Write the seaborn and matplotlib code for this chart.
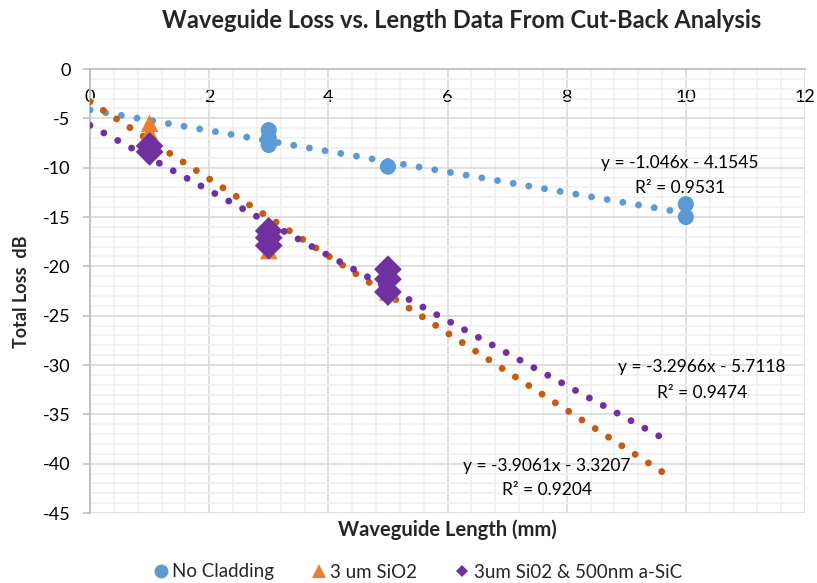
import numpy as np
import pandas as pd
import matplotlib
matplotlib.use("Agg")
import matplotlib.pyplot as plt
from matplotlib.lines import Line2D
from matplotlib.ticker import MultipleLocator
import seaborn as sns

# ---- measured data -------------------------------------------------------
series_names = ["No Cladding", "3 um SiO2", "3um Si02 & 500nm a-SiC"]

no_clad_x = [3, 3, 3, 5, 10, 10]
no_clad_y = [-6.2, -7.0, -7.7, -9.9, -13.7, -15.0]

sio2_x = [1, 1, 1, 3, 3, 5, 5]
sio2_y = [-5.5, -6.4, -7.9, -18.4, -17.2, -21.8, -22.6]

sic_x = [1, 1, 3, 3, 3, 5, 5, 5]
sic_y = [-7.8, -8.4, -16.4, -17.1, -17.9, -20.3, -21.3, -22.6]

# linear fits (slope, intercept, R^2) and the x-range each trend line covers
fit_slope = [-1.046, -3.9061, -3.2966]
fit_intercept = [-4.1545, -3.3207, -5.7118]
fit_r2 = [0.9531, 0.9204, 0.9474]
fit_range = [(0, 10), (0, 9.6), (0, 9.55)]

# ---- styling -------------------------------------------------------------
marker_colors = ["#5B9BD5", "#ED7D31", "#7030A0"]
trend_colors = ["#5B9BD5", "#C55A11", "#7030A0"]
markers = ["o", "^", "D"]
marker_sizes = [135, 160, 200]
DOT_LW = 5.0          # dot diameter, points
DOT_PITCH_PX = 16.0   # approximate distance between dots, pixels

sns.set_theme(style="white")
plt.rcParams["font.family"] = ["Lato", "DejaVu Sans"]

fig = plt.figure(figsize=(8.17, 5.83), dpi=100)
ax = fig.add_axes([90 / 817, 1 - 513 / 583, 715 / 817, 444 / 583])
ax.set_xlim(0, 12)
ax.set_ylim(-45, 0)

# dotted trend lines; the pitch is nudged so a dot lands on each end
px_per_pt = fig.dpi / 72.0
for i, name in enumerate(series_names):
    lo, hi = fit_range[i]
    tx = np.linspace(lo, hi, 300)
    ty = fit_slope[i] * tx + fit_intercept[i]
    p0, p1 = ax.transData.transform([[tx[0], ty[0]], [tx[-1], ty[-1]]])
    length_px = float(np.hypot(*(p1 - p0)))
    n = max(1, round(length_px / DOT_PITCH_PX))
    pitch_lw = (length_px / n) / (DOT_LW * px_per_pt) * 0.9995
    tdf = pd.DataFrame({"x": tx, "y": ty})
    sns.lineplot(data=tdf, x="x", y="y", ax=ax, color=trend_colors[i],
                 lw=DOT_LW, linestyle=(0, (0.0001, pitch_lw - 0.0001)),
                 dash_capstyle="round", zorder=3)

# measured points
point_sets = [(no_clad_x, no_clad_y), (sio2_x, sio2_y), (sic_x, sic_y)]
for i, (xs, ys) in enumerate(point_sets):
    pdf = pd.DataFrame({"x": xs, "y": ys})
    sns.scatterplot(data=pdf, x="x", y="y", ax=ax, marker=markers[i],
                    s=marker_sizes[i], color=marker_colors[i],
                    edgecolor="none", linewidth=0, zorder=4 + i)

# trend line equations
eq_pos = [(9.9, -9.5, -12.1), (7.67, -40.2, -42.65), (10.27, -30.2, -32.8)]
for i in range(3):
    x0, y_eq, y_r2 = eq_pos[i]
    sign = "-" if fit_intercept[i] < 0 else "+"
    ax.text(x0, y_eq, f"y = {fit_slope[i]:g}x {sign} {abs(fit_intercept[i]):g}",
            ha="center", va="center", fontsize=12.5, color="#000000", zorder=8)
    ax.text(x0, y_r2, f"R² = {fit_r2[i]:.4f}",
            ha="center", va="center", fontsize=12.5, color="#000000", zorder=8)

# axes, grid
ax.set_xlim(0, 12)
ax.set_ylim(-45, 0)
ax.xaxis.set_major_locator(MultipleLocator(2))
ax.xaxis.set_minor_locator(MultipleLocator(0.4))
ax.yaxis.set_major_locator(MultipleLocator(5))
ax.yaxis.set_minor_locator(MultipleLocator(1))
ax.grid(which="minor", color="#F0F0F0", lw=1.2, zorder=0)
ax.grid(which="major", color="#D9D9D9", lw=1.2, zorder=1)
ax.set_axisbelow(True)

for side in ["right", "bottom"]:
    ax.spines[side].set_visible(False)
ax.spines["left"].set_color("#BFBFBF")
ax.spines["top"].set_color("#BFBFBF")
ax.spines["left"].set_linewidth(1.3)
ax.spines["top"].set_linewidth(1.3)

ax.xaxis.set_ticks_position("top")
ax.tick_params(axis="x", which="both", length=0, labelsize=13, pad=-26,
               labelcolor="#000000")
ax.tick_params(axis="y", which="major", left=True, length=5, width=1.2,
               color="#BFBFBF", direction="out", labelsize=13, pad=9,
               labelcolor="#000000")
ax.tick_params(axis="y", which="minor", length=0)
ax.set_xticks(range(0, 13, 2))
ax.set_xticklabels([str(v) for v in range(0, 13, 2)])
ax.set_yticks(range(-45, 1, 5))
ax.set_yticklabels([str(v) for v in range(-45, 1, 5)])

ax.set_xlabel("")
ax.set_ylabel("")
fig.text(447 / 817, 1 - 530 / 583, "Waveguide Length (mm)", ha="center",
         va="center", fontsize=14.5, fontweight="bold")
fig.text(22 / 817, 1 - 292 / 583, "Total Loss  dB", ha="center", va="center",
         rotation=90, fontsize=13, fontweight="bold")
fig.text(462 / 817, 1 - 20 / 583,
         "Waveguide Loss vs. Length Data From Cut-Back Analysis",
         ha="center", va="center", fontsize=17, fontweight="bold")

# legend
handles = [
    Line2D([], [], marker=markers[i], color=marker_colors[i], linestyle="none",
           markersize=[10, 10, 6.5][i], markeredgewidth=0)
    for i in range(3)
]
fig.legend(handles, series_names, loc="center", ncol=3,
           bbox_to_anchor=(0.51, 1 - 572 / 583), frameon=False,
           fontsize=13.5, handletextpad=0.1, columnspacing=1.9,
           handlelength=1.0)

fig.savefig("out.png", dpi=100)
